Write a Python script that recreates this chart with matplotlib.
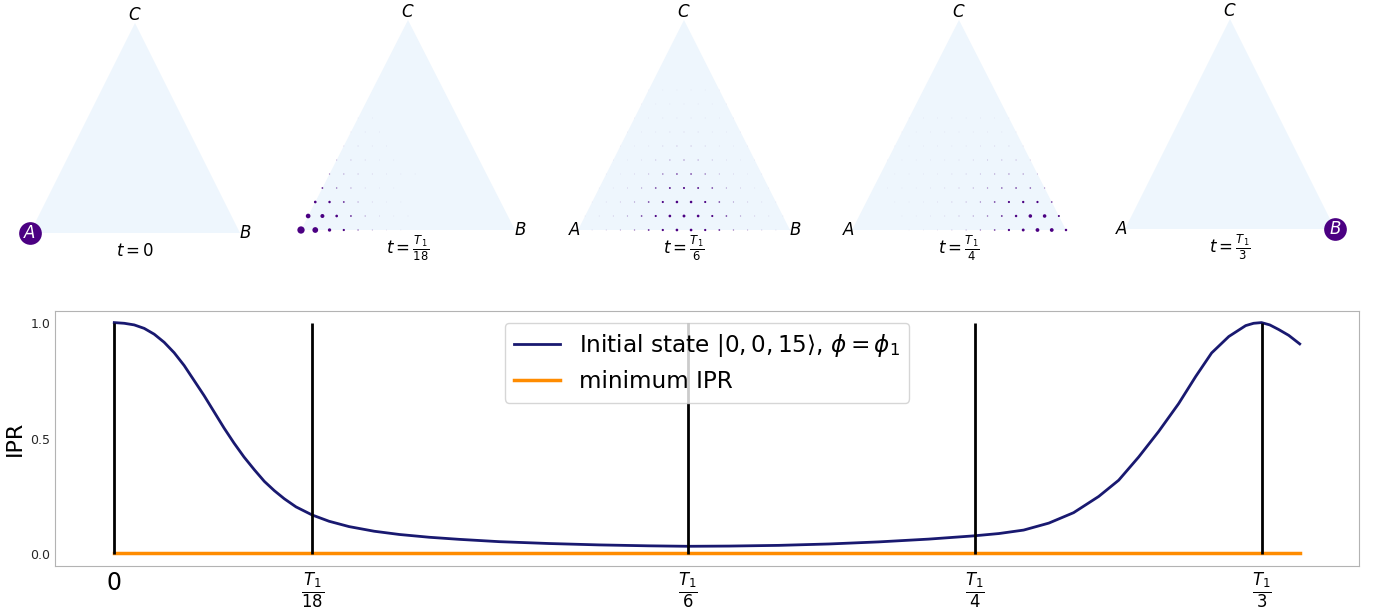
import numpy as np
import matplotlib
matplotlib.use('Agg')
import matplotlib.pyplot as plt
from matplotlib.patches import Polygon

# lattice size: n_A + n_B + n_C = 15
N = 15

# site probabilities, row j (from base A-B upwards), entry i (from the A side)
prob_t0 = [
    [1.0, 0, 0, 0, 0, 0, 0, 0, 0, 0, 0, 0, 0, 0, 0, 0],
]
prob_t18 = [
    [0.30, 0.23, 0.12, 0.07, 0.035, 0.02, 0.01, 0.005, 0, 0, 0, 0, 0, 0, 0, 0],
    [0.18, 0.15, 0.09, 0.05, 0.025, 0.012, 0.006, 0.003, 0, 0, 0, 0, 0, 0, 0],
    [0.09, 0.08, 0.05, 0.025, 0.012, 0.006, 0.003, 0, 0, 0, 0, 0, 0, 0],
    [0.05, 0.035, 0.025, 0.012, 0.006, 0.003, 0, 0, 0, 0, 0, 0, 0],
    [0.03, 0.025, 0.018, 0.012, 0.008, 0.005, 0.003, 0, 0, 0, 0, 0],
    [0.02, 0.018, 0.012, 0.006, 0.004, 0, 0, 0, 0, 0, 0],
    [0.012, 0.012, 0.008, 0.004, 0, 0, 0, 0, 0, 0],
    [0.008, 0.008, 0.005, 0, 0, 0, 0, 0, 0],
    [0.004, 0.004, 0, 0, 0, 0, 0, 0],
]
prob_t6 = [
    [0.005, 0.01, 0.015, 0.022, 0.032, 0.05, 0.07, 0.09, 0.09, 0.07, 0.05, 0.032, 0.022, 0.015, 0.01, 0.005],
    [0.005, 0.01, 0.015, 0.025, 0.045, 0.065, 0.09, 0.1, 0.09, 0.065, 0.045, 0.025, 0.015, 0.01, 0.005],
    [0.005, 0.01, 0.015, 0.025, 0.045, 0.065, 0.085, 0.085, 0.065, 0.045, 0.025, 0.015, 0.01, 0.005],
    [0.004, 0.008, 0.014, 0.025, 0.045, 0.055, 0.06, 0.055, 0.045, 0.025, 0.014, 0.008, 0.004],
    [0.003, 0.006, 0.012, 0.02, 0.035, 0.045, 0.045, 0.035, 0.02, 0.012, 0.006, 0.003],
    [0.003, 0.005, 0.01, 0.018, 0.025, 0.03, 0.025, 0.018, 0.01, 0.005, 0.003],
    [0.002, 0.004, 0.008, 0.013, 0.018, 0.018, 0.013, 0.008, 0.004, 0.002],
    [0.002, 0.004, 0.007, 0.01, 0.012, 0.01, 0.007, 0.004, 0.002],
    [0.002, 0.004, 0.006, 0.008, 0.008, 0.006, 0.004, 0.002],
    [0.002, 0.003, 0.005, 0.006, 0.005, 0.003, 0.002],
    [0.001, 0.002, 0.003, 0.003, 0.002, 0.001],
]
prob_t4 = [
    [0, 0, 0, 0, 0.004, 0.006, 0.01, 0.015, 0.022, 0.03, 0.045, 0.07, 0.1, 0.14, 0.14, 0.08],
    [0, 0, 0, 0.003, 0.005, 0.008, 0.012, 0.018, 0.025, 0.035, 0.05, 0.08, 0.13, 0.13, 0.06],
    [0, 0, 0.002, 0.004, 0.006, 0.01, 0.015, 0.02, 0.03, 0.045, 0.065, 0.075, 0.07, 0.045],
    [0, 0.002, 0.003, 0.005, 0.008, 0.012, 0.016, 0.022, 0.03, 0.04, 0.045, 0.04, 0.028],
    [0, 0.002, 0.003, 0.005, 0.007, 0.01, 0.014, 0.018, 0.025, 0.03, 0.028, 0.02],
    [0.001, 0.002, 0.003, 0.005, 0.007, 0.01, 0.013, 0.017, 0.02, 0.02, 0.014],
    [0.001, 0.002, 0.003, 0.004, 0.006, 0.008, 0.01, 0.012, 0.012, 0.009],
    [0.001, 0.002, 0.003, 0.004, 0.005, 0.006, 0.007, 0.007, 0.005],
    [0.001, 0.002, 0.003, 0.004, 0.004, 0.004, 0.004, 0.003],
]
prob_t3 = [
    [0, 0, 0, 0, 0, 0, 0, 0, 0, 0, 0, 0, 0, 0, 0, 1.0],
]
panel_probs = [prob_t0, prob_t18, prob_t6, prob_t4, prob_t3]
panel_titles = [r'$t=0$', r'$t=\frac{T_1}{18}$', r'$t=\frac{T_1}{6}$',
                r'$t=\frac{T_1}{4}$', r'$t=\frac{T_1}{3}$']

# IPR curve, t in units of T1
t_curve = [0.0, 0.0029, 0.0058, 0.0087, 0.0116, 0.0145, 0.0174, 0.0203, 0.0232,
           0.0261, 0.0290, 0.0319, 0.0348, 0.0377, 0.0407, 0.0436, 0.0465, 0.0494,
           0.0528, 0.0575, 0.0624, 0.0682, 0.0755, 0.0828, 0.0915, 0.1002, 0.1118,
           0.1263, 0.1408, 0.1553, 0.1667, 0.1786, 0.1931, 0.2076, 0.2221, 0.2366,
           0.2497, 0.2570, 0.2642, 0.2715, 0.2787, 0.2860, 0.2918, 0.2976, 0.3034,
           0.3092, 0.3142, 0.3188, 0.3238, 0.3287, 0.3310, 0.3333, 0.3357, 0.3383,
           0.3412, 0.3444]
ipr_curve = [1.0, 0.997, 0.99, 0.975, 0.95, 0.915, 0.87, 0.815, 0.75,
             0.685, 0.615, 0.545, 0.48, 0.42, 0.365, 0.315, 0.275, 0.24,
             0.205, 0.17, 0.143, 0.12, 0.1, 0.086, 0.074, 0.065, 0.055,
             0.047, 0.041, 0.037, 0.035, 0.036, 0.039, 0.045, 0.054, 0.066,
             0.08, 0.09, 0.105, 0.135, 0.18, 0.25, 0.32, 0.42, 0.53,
             0.65, 0.768, 0.869, 0.94, 0.987, 0.997, 1.0, 0.99, 0.97,
             0.945, 0.908]
min_ipr = 1.0 / 136
tick_pos = [0, 0.0575, 1 / 6, 1 / 4, 1 / 3]
tick_labels = ['0', r'$\frac{T_1}{18}$', r'$\frac{T_1}{6}$', r'$\frac{T_1}{4}$', r'$\frac{T_1}{3}$']

W, H = 1386, 612
fig = plt.figure(figsize=(W / 100, H / 100), dpi=100)

dot_rgb = np.array([75, 0, 130]) / 255
tri_h = N * np.sqrt(3) / 2
lefts = [30, 301, 578, 852, 1125]
widths = [210, 214, 212, 214, 210]
bases = [233, 230, 230, 230, 229]
for k in range(5):
    ax = fig.add_axes([lefts[k] / W, 1 - bases[k] / H, widths[k] / W, 210 / H])
    ax.set_xlim(0, N)
    ax.set_ylim(0, tri_h)
    ax.axis('off')
    ax.add_patch(Polygon([[0, 0], [N, 0], [N / 2, tri_h]], closed=True,
                         facecolor='#eef6fd', edgecolor='none', zorder=0))
    xs, ys, ss, cs = [], [], [], []
    for j, row in enumerate(panel_probs[k]):
        for i, p in enumerate(row):
            if p > 0:
                xs.append(i + j / 2)
                ys.append(j * np.sqrt(3) / 2)
                # marker diameter ~ 22 px * p, small weights drawn pale
                ss.append(((22 * p + 0.7) * 0.72) ** 2)
                cs.append((*dot_rgb, min(1.0, max(0.12, p / 0.06))))
    ax.scatter(xs, ys, s=ss, c=cs, linewidths=0, clip_on=False, zorder=2)
    pA = panel_probs[k][0][0]
    pB = panel_probs[k][0][-1]
    ax.text(0 if pA > 0.5 else -0.25, 0, '$A$', fontsize=12, ha='center', va='center',
            zorder=3 if pA > 0.5 else 1, color='white' if pA > 0.05 else 'black')
    ax.text(N if pB > 0.5 else N + 0.35, 0, '$B$', fontsize=12, ha='center', va='center',
            zorder=3 if pB > 0.5 else 1, color='white' if pB > 0.05 else 'black')
    ax.text(N / 2, tri_h + 0.5, '$C$', fontsize=12, ha='center', va='center')
    ax.text(0.5, -0.085, panel_titles[k], fontsize=12, ha='center', va='center',
            transform=ax.transAxes)

ax = fig.add_axes([55 / W, 1 - 566 / H, 1304 / W, 255 / H])
ax.plot(t_curve, ipr_curve, color='#191970', lw=2, solid_joinstyle='round',
        label=r'Initial state $|0,0,15\rangle$, $\phi=\phi_1$')
ax.plot([t_curve[0], t_curve[-1]], [min_ipr, min_ipr], color='darkorange', lw=2.5,
        label='minimum IPR')
ax.vlines(tick_pos, 0, 1, color='black', lw=2)
ax.set_xticks(tick_pos)
ax.set_xticklabels(tick_labels, fontsize=17)
ax.set_yticks([0, 0.5, 1.0])
ax.set_yticklabels(['0.0', '0.5', '1.0'], fontsize=9, color='0.15')
ax.tick_params(length=0)
ax.set_ylabel('IPR', fontsize=16)
for sp in ax.spines.values():
    sp.set_color('0.7')
ax.legend(loc='upper center', fontsize=16.7)

fig.savefig('out.png', dpi=100)
